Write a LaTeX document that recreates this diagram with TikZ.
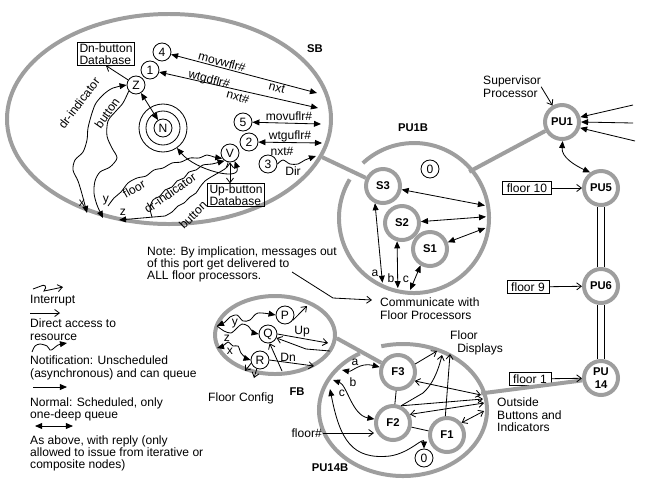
\documentclass[tikz,border=0pt]{standalone}
\usepackage{fontspec}
\setmainfont{Liberation Sans}
\usetikzlibrary{arrows.meta,shapes.geometric}

\definecolor{ringgray}{gray}{0.62}

\tikzset{
  ringnode/.style={circle, draw=ringgray, line width=3.4pt, minimum size=1.02cm, inner sep=0pt, align=center, font=\fontsize{9.6}{11}\selectfont\bfseries},
  tasknode/.style={circle, draw, line width=0.7pt, minimum size=0.54cm, inner sep=0pt},
  bubblenode/.style={ellipse, draw=ringgray, line width=3.4pt, inner sep=0pt},
  ringline/.style={draw=ringgray, line width=3.4pt},
  dbbox/.style={draw, line width=0.7pt, align=left, inner xsep=1.5pt, inner ysep=0.6pt},
  flbox/.style={draw, line width=0.7pt, inner xsep=3.6pt, inner ysep=1.8pt},
  txt/.style={align=left, inner sep=0pt, anchor=north west},
  bold/.style={font=\fontsize{9.6}{11}\selectfont\bfseries},
  thinline/.style={line width=0.7pt},
  accessarr/.style={thinline, -{Straight Barb[length=4pt,width=6pt]}},
  accessboth/.style={thinline, {Straight Barb[length=4pt,width=6pt]}-{Straight Barb[length=4pt,width=6pt]}},
  callarr/.style={thinline, -{Triangle[length=6pt,width=5pt]}},
  replyarr/.style={thinline, {Triangle[length=6pt,width=5pt]}-{Triangle[length=6pt,width=5pt]}},
}

\begin{document}
\begin{tikzpicture}[x=0.03cm, y=-0.03cm, font=\fontsize{10.3}{10.4}\selectfont]
\useasboundingbox (0,0) rectangle (648,491);

% legend
\node[txt] (lgint) at (30,295) {Interrupt};
\node[txt] (lgacc) at (30,319) {Direct access to\\resource};
\node[txt] (lgnot) at (30,356) {Notification: Unscheduled\\(asynchronous) and can queue};
\node[txt] (lgnor) at (30,397.5) {Normal: Scheduled, only\\one-deep queue};
\node[txt] (lgrep) at (30,435.5) {As above, with reply (only\\allowed to issue from iterative or\\composite nodes)};
\draw[accessarr] (33,289) -- (41,286) .. controls (44,284) and (48,286) .. (44,291) -- (49,290) -- (63,287);
\draw[accessarr] (30,313) -- (60,313);
\draw[callarr] plot[smooth] coordinates {(32,352) (35,346) (40,344) (47,346) (50,350) (53,349) (58,345) (67,343)};
\draw[callarr] (33,387) -- (67,387);
\draw[replyarr] (35,426) -- (73,426);

% SB
\node[bubblenode, minimum width=9.72cm, minimum height=6.3cm] (SB) at (169,119) {};
\node[bold] (sbname) at (315,49) {SB};
\node[dbbox] (dnbox) at (106,54) {Dn-button\\Database};
\node[tasknode] (t4) at (162,52) {4};
\node[tasknode] (t1) at (150,70) {1};
\node[tasknode] (Z) at (136,85) {Z};
\node[tasknode] (N) at (163,128) {N};
\node[circle, draw, line width=0.7pt, minimum size=1.02cm, inner sep=0pt] (Nmid) at (N) {};
\node[circle, draw, line width=0.7pt, minimum size=1.44cm, inner sep=0pt] (Nout) at (N) {};
\node[tasknode] (t5) at (243,122) {5};
\node[tasknode] (t2) at (249,142) {2};
\node[tasknode] (V) at (230,153) {V};
\node[tasknode] (t3) at (268,164) {3};
\node[dbbox] (upbox) at (236,195) {Up-button\\Database};

\coordinate (e4) at (317,93);
\coordinate (e1) at (318,108);
\coordinate (e5) at (321,124);
\coordinate (e2) at (322,143);
\coordinate (e3) at (316,156);
\coordinate (px) at (87,213);
\coordinate (py) at (103,218);
\coordinate (pz) at (119,220);
\coordinate (pyf) at (108,206);

\draw[replyarr] (t4) -- (e4);
\draw[replyarr] (t1) -- (e1);
\draw[replyarr] (t5) -- (e5);
\draw[replyarr] (t2) -- (e2);
\draw[callarr] plot[smooth] coordinates {(t3.east) (283,160) (290,164) (298,164) (305,160) (e3)};
\node[rotate=-15] (lmv1) at (222,62) {movwflr\#};
\node[rotate=-15] (lwt1) at (209,80) {wtgdflr\#};
\node[rotate=-15] (lnx1) at (277,88) {nxt};
\node[rotate=-15] (lnx2) at (238,97) {nxt\#};
\node (lmv2) at (289,116) {movuflr\#};
\node (lwt2) at (290,136) {wtguflr\#};
\node (lnx3) at (282,151) {nxt\#};
\node (ldir) at (293,171) {Dir};

\draw[accessarr] (Z) -- (dnbox.south);
\draw[replyarr] (Z) -- (N);
\draw[replyarr] plot[smooth] coordinates {(Z.west) (113,88) (104,94) (96,103) (92,113) (88,128) (87,140) (83,152) (75,160) (73,170) (78,181) (82,194) (px)};
\draw[callarr] plot[smooth] coordinates {(Z.220) (123,103) (116,111) (108,121) (107,136) (112,148) (117,158) (110,167) (100,172) (95,181) (94,193) (97,205) (py)};
\node[rotate=53] (ldr1) at (79,103) {dr-indicator};
\node[rotate=55] (lbt1) at (107,113) {button};
\node (lx) at (82,203) {x};
\node (ly) at (106,201) {y};
\node (lz) at (123,212) {z};

\draw[callarr] plot[smooth] coordinates {(pyf) (114,198) (121,192) (128,183) (137,178) (146,176) (154,170) (163,168) (172,163) (181,162) (190,158) (199,158) (207,155) (214,157) (V.215)};
\draw[callarr] plot[smooth] coordinates {(152,217) (150,208) (153,200) (160,196) (165,190) (172,187) (177,181) (184,178) (189,172) (196,170) (203,165) (212,164) (V.235)};
\draw[callarr] plot[smooth] coordinates {(V.258) (226,168) (218,173) (211,177) (205,181) (200,187) (196,193) (190,197) (184,203) (178,206) (172,212) (165,216)} -- (pz);
\node[rotate=30] (lfl) at (134,189) {floor};
\node[rotate=35] (ldr2) at (170,193) {dr-indicator};
\node[rotate=45] (lbt2) at (193,215) {button};
\draw[replyarr] (Nout.-55) .. controls (195,170) and (242,182) .. (V.-60);
\draw[accessboth] (V) -- (V |- upbox.north);

% PU1B
\node[circle, minimum size=4.32cm, inner sep=0pt, outer sep=0pt] (PU1B) at (414,218) {};
\draw[ringline] (PU1B.center) ++(149:2.25cm) arc[start angle=149, end angle=493, radius=2.25cm];
\node[bold] (pu1bname) at (413,128) {PU1B};
\node[ringnode] (S3) at (383,186) {S3};
\node[ringnode] (S2) at (402,223) {S2};
\node[ringnode] (S1) at (430,249) {S1};
\node[tasknode] (zeroA) at (430,169) {0};

% processors on the right
\node[ringnode] (PU1) at (562,122) {PU1};
\node[ringnode] (PU5) at (601,188) {PU5};
\node[ringnode] (PU6) at (601,286) {PU6};
\node[ringnode] (PU14) at (601,378) {PU\\14};
\node[txt] (suplbl) at (483,76) {Supervisor\\Processor};
\node[flbox] (f10) at (527,188) {floor 10};
\node[flbox] (f9) at (528,287) {floor 9};
\node[flbox] (f1) at (530,379) {floor 1};
\coordinate (r1) at (633,105);
\coordinate (r2) at (633,123);
\coordinate (r3) at (635,141);

% FB
\node[bubblenode, minimum width=3.6cm, minimum height=2.34cm] (FB) at (275,335) {};
\node[bold] (fbname) at (297,392) {FB};
\node[txt] (fbcfg) at (208,393) {Floor Config};
\node[tasknode] (P) at (285,315) {P};
\node[tasknode] (Q) at (268,334) {Q};
\node[tasknode] (R) at (260,360) {R};

% PU14B
\node[ellipse, minimum width=4.86cm, minimum height=3.78cm, inner sep=0pt, outer sep=0pt] (PU14B) at (403,410) {};
\draw[ringline] (PU14B.center) ++(121:2.52cm and 1.98cm) arc[start angle=121, end angle=465, x radius=2.52cm, y radius=1.98cm];
\node[bold] (pu14bname) at (330,468) {PU14B};
\node[ringnode] (F3) at (398,372) {F3};
\node[ringnode] (F2) at (393,423) {F2};
\node[ringnode] (F1) at (447,435) {F1};
\node[tasknode] (zeroB) at (424,458) {0};
\node[anchor=east, inner sep=0pt] (floorlbl) at (322,433) {floor\#};

% notes
\node[txt] (note) at (147,246.5) {Note: By implication, messages out\\of this port get delivered to\\ALL floor processors.};
\node[txt] (comm) at (380,298) {Communicate with\\Floor Processors};
\node[txt] (disp) at (450,331) {Floor\\\hspace*{6pt}Displays};
\node[txt] (outs) at (497,398) {Outside\\Buttons and\\Indicators};

% gray links
\draw[ringline] (SB.-14) -- (S3);
\draw[ringline] (PU1B.40) -- (PU1);
\draw[ringline] (FB.-3) -- (F3);
\draw[ringline] (PU14B.12) -- (PU14);
\draw[double, double distance=5.6pt, thinline] (PU5) -- (PU6);
\draw[double, double distance=5.6pt, thinline] (PU6) -- (PU14);

% PU1B messages
\draw[replyarr] (S3) -- (PU1B.10);
\draw[replyarr] (S2) -- (PU1B.1);
\draw[replyarr] (S1) -- (PU1B.-8);
\draw[replyarr] (S3.245) -- (PU1B.-116);
\draw[replyarr] (S2.255) -- (PU1B.-103);
\draw[replyarr] (S1.240) -- (PU1B.-93);
\node (la1) at (375,273) {a};
\node (lb1) at (391,278) {b};
\node (lc1) at (406,279) {c};

% supervisor
\draw[accessarr] (suplbl.east) -- (PU1.120);
\draw[callarr] (r1) -- (PU1.15);
\draw[callarr] (r2) -- (PU1.0);
\draw[callarr] (r3) -- (PU1.-18);
\draw[replyarr] (PU1.-88) to[out=-95, in=155] (PU5.125);
\draw[accessarr] (f10) -- (PU5);
\draw[accessarr] (f9) -- (PU6);
\draw[accessarr] (f1) -- (PU14);

% note arrow
\coordinate (notetail) at (292,272);
\coordinate (commin) at (372,300);
\draw[accessarr] (notetail) -- (333,298) -- (commin);

% FB messages
\coordinate (fy) at (217,326);
\coordinate (fx) at (217,348);
\draw[replyarr] plot[smooth] coordinates {(fy) (225,322) (230,317) (237,315) (243,321) (250,320) (258,313) (P.west)};
\draw[callarr] plot[smooth] coordinates {(fy) (224,331) (231,333) (237,328) (242,324) (248,326) (253,332) (Q.west)};
\draw[replyarr] plot[smooth] coordinates {(fx) (223,346) (228,342) (233,346) (238,346) (241,353) (246,358) (R.west)};
\node (ly2) at (235,324) {y};
\node (lz2) at (227,338) {z};
\node (lx2) at (230,351) {x};
\coordinate (pup) at (307,306);
\coordinate (qout) at (328,343);
\coordinate (qin) at (330,351);
\coordinate (rout) at (314,366);
\coordinate (rl1) at (245,371);
\coordinate (rl2) at (254,378);
\coordinate (qbot) at (282,371);
\draw[accessarr] (P.-35) -- (pup);
\draw[accessarr] (Q.east) -- (qout);
\draw[accessarr] (qin) -- (306,349) -- (Q.-25);
\draw[accessarr] (R.east) -- (rout);
\draw[accessarr] (qbot) -- (Q.-80);
\draw[accessarr] (R.200) -- (rl1);
\draw[accessarr] (R.250) -- (rl2);
\node (lup) at (302,332) {Up};
\node (ldn) at (288,357) {Dn};

% PU14B messages
\coordinate (pa) at (342,370);
\coordinate (pb) at (333,380);
\coordinate (pc) at (330,389);
\coordinate (d1) at (437,351);
\coordinate (d2) at (442,355);
\coordinate (d3) at (450,354);
\coordinate (o1) at (481,395);
\coordinate (o2) at (483,399);
\coordinate (o3) at (484,403);
\coordinate (o4) at (484,411);
\draw[thinline] (F3) -- (F2);
\draw[thinline] (F2) -- (F1);
\draw[replyarr] (pa) .. controls (352,372) and (360,362) .. (F3.165);
\draw[replyarr] (pb) .. controls (347,385) and (352,415) .. (F2.168);
\draw[replyarr] (pc) .. controls (340,440) and (352,460) .. (390,456) .. controls (410,453) and (424,436) .. (zeroB.north);
\node (la2) at (355,362) {a};
\node (lb2) at (353,382) {b};
\node (lc2) at (342,393) {c};
\draw[accessarr] ([xshift=1pt]floorlbl.east) -- (floorlbl.east -| F2.west);
\draw[accessarr] (F3.25) -- (d1);
\draw[accessarr] (F2.65) -- (423,393) .. controls (432,385) and (438,372) .. (d2);
\draw[accessarr] (F1.95) -- (d3);
\draw[accessboth] (F3.-28) -- (o1);
\draw[accessarr] (F2.65) -- (o2);
\draw[accessboth] (F2.27) -- (o3);
\draw[accessboth] (F1.40) -- (o4);
\end{tikzpicture}
\end{document}
